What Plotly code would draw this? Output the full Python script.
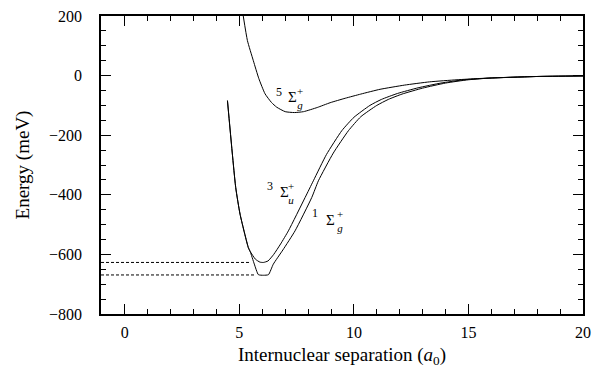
import plotly.graph_objects as go

# Quintet 5Σg+
R_quintet = [5.17, 5.35, 5.61, 5.85, 6.12, 6.4, 6.63, 7.0, 7.4, 7.8, 8.4, 8.96, 9.62, 10.3, 11.14, 12.2, 13.3, 14.5, 15.4, 16.4, 18.0, 20.0]
E_quintet = [200, 118, 50, -10, -61, -90, -106, -121, -124, -121, -107, -91, -76, -62, -46, -32, -21, -14, -10, -7, -3, -1]

# Triplet 3Σu+
R_triplet = [4.48, 4.84, 5.03, 5.39, 5.47, 5.7, 5.9, 6.05, 6.25, 6.5, 6.8, 7.14, 7.87, 8.23, 8.8, 9.47, 10.0, 10.7, 11.2, 11.9, 12.8, 13.8, 14.8, 16.0, 18.0, 20.0]
E_triplet = [-84, -375, -465, -577, -590, -616, -626, -627, -622, -600, -565, -521, -409, -353, -265, -185, -140, -100, -80, -60, -41, -25, -14, -8, -3, -1]

# Singlet 1Σg+
R_singlet = [4.48, 4.84, 5.03, 5.39, 5.47, 5.65, 5.83, 6.05, 6.27, 6.48, 6.9, 7.43, 8.16, 8.45, 9.1, 9.76, 10.3, 11.0, 11.5, 12.1, 13.0, 14.0, 15.0, 16.0, 18.0, 20.0]
E_singlet = [-84, -375, -465, -577, -590, -632, -668, -670, -668, -633, -585, -521, -409, -353, -260, -185, -138, -100, -80, -62, -42, -25, -14, -8, -3, -1]

# Dashed reference levels (well depths)
level_E = [-627, -669]
level_R_end = [5.42, 5.7]
R_min, R_max = -1.04, 20.0
E_min, E_max = -800, 200
x_ticks = [0, 5, 10, 15, 20]
y_ticks = [-800, -600, -400, -200, 0, 200]

# State labels: multiplicity, symmetry subscript, Σ position (data coords)
lab_mult = ["5", "3", "1"]
lab_sym = ["g", "u", "g"]
lab_R = [7.31, 6.95, 8.96]
lab_E = [-73, -389, -484]

fig = go.Figure()
line = dict(color="black", width=1, shape="spline", smoothing=0.5)
fig.add_trace(go.Scatter(x=R_quintet, y=E_quintet, mode="lines", line=line, hoverinfo="skip"))
fig.add_trace(go.Scatter(x=R_triplet, y=E_triplet, mode="lines", line=line, hoverinfo="skip"))
fig.add_trace(go.Scatter(x=R_singlet, y=E_singlet, mode="lines", line=line, hoverinfo="skip"))
for e, r in zip(level_E, level_R_end):
    fig.add_trace(go.Scatter(x=[R_min, r], y=[e, e], mode="lines", hoverinfo="skip",
                             line=dict(color="black", width=1, dash="3px,2px")))
# invisible copy on mirror axes so the top/right tick sets are drawn
fig.add_trace(go.Scatter(x=R_quintet, y=E_quintet, mode="lines", xaxis="x2", yaxis="y2",
                         opacity=0, hoverinfo="skip", line=dict(width=1)))

serif = "Liberation Serif"
mult_shift = [(-13, 5), (-14, 6), (-15, 7)]
stack_shift = [8, 7, 10]
ann = []
for m, s, r, e, ms, ss in zip(lab_mult, lab_sym, lab_R, lab_E, mult_shift, stack_shift):
    ann.append(dict(x=r, y=e, text="Σ", showarrow=False, borderpad=0,
                    font=dict(family=serif, size=15, color="black")))
    ann.append(dict(x=r, y=e, xshift=ms[0], yshift=ms[1], text=m, showarrow=False, borderpad=0,
                    font=dict(family=serif, size=12, color="black")))
    ann.append(dict(x=r, y=e, xshift=ss, yshift=-1, text="+<br><i>" + s + "</i>", showarrow=False,
                    borderpad=0, font=dict(family=serif, size=11, color="black")))

axis_common = dict(ticks="inside", tickwidth=1.2, tickcolor="black", showgrid=False, zeroline=False)

fig.update_layout(
    width=599, height=368,
    margin=dict(l=101, r=16, t=16, b=54),
    paper_bgcolor="white", plot_bgcolor="white",
    showlegend=False,
    font=dict(family=serif, size=16, color="black"),
    annotations=ann,
    xaxis=dict(range=[R_min, R_max], tickvals=x_ticks, ticklen=10,
               showline=True, linecolor="black", linewidth=1.5, mirror=True,
               minor=dict(dtick=1, tick0=0, ticks="inside", ticklen=5, tickcolor="black", tickwidth=1.2),
               ticklabelstandoff=3,
               title=dict(text="Internuclear separation (<i>a</i><sub>0</sub>)", standoff=9),
               tickfont=dict(family=serif, size=16), automargin=False, **axis_common),
    yaxis=dict(range=[E_min, E_max], tickvals=y_ticks, ticklen=10,
               showline=True, linecolor="black", linewidth=1.5, mirror=True,
               minor=dict(dtick=50, tick0=0, ticks="inside", ticklen=5, tickcolor="black", tickwidth=1.2),
               ticklabelstandoff=14,
               title=dict(text="Energy (meV)", standoff=14),
               tickfont=dict(family=serif, size=16), automargin=False, **axis_common),
    xaxis2=dict(range=[R_min, R_max], tickvals=x_ticks, ticklen=10, overlaying="x", side="top",
                showticklabels=False, showline=False,
                minor=dict(dtick=1, tick0=0, ticks="inside", ticklen=5, tickcolor="black", tickwidth=1.2),
                **axis_common),
    yaxis2=dict(range=[E_min, E_max], tickvals=y_ticks, ticklen=10, overlaying="y", side="right",
                showticklabels=False, showline=False,
                minor=dict(dtick=50, tick0=0, ticks="inside", ticklen=5, tickcolor="black", tickwidth=1.2),
                **axis_common),
)
fig.write_html("out.html")
